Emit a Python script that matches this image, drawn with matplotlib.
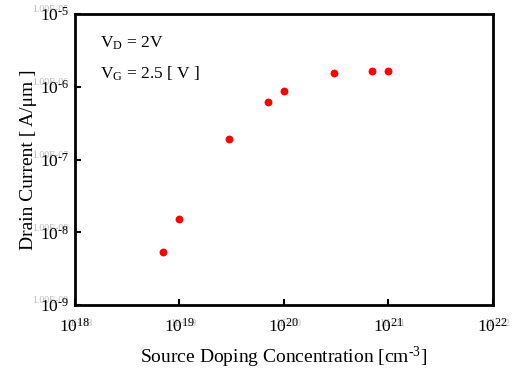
import numpy as np
import matplotlib
matplotlib.use("Agg")
import matplotlib.pyplot as plt
from matplotlib.ticker import FuncFormatter, NullLocator
from matplotlib.transforms import offset_copy

plt.rcParams['font.family'] = ['Liberation Serif', 'DejaVu Serif']
plt.rcParams['mathtext.fontset'] = 'custom'
plt.rcParams['mathtext.rm'] = 'Liberation Serif'
plt.rcParams['mathtext.it'] = 'Liberation Serif:italic'

# doping concentration [cm^-3] and drain current [A/um]
doping = [7e18, 1e19, 3e19, 7e19, 1e20, 3e20, 7e20, 1e21]
current = [5.4e-9, 1.52e-8, 1.9e-7, 6.2e-7, 8.9e-7, 1.53e-6, 1.66e-6, 1.66e-6]

x_ticks = [1e18, 1e19, 1e20, 1e21, 1e22]
y_ticks = [1e-9, 1e-8, 1e-7, 1e-6, 1e-5]
# leftover default labels that show faintly behind the real ones
x_ghost = ['1E+18', '1E+19', '1E+20', '1E+21', '1E+22']
y_ghost = ['1.00E-09', '1.00E-08', '1.00E-07', '1.00E-06', '1.00E-05']


def pow_label(v, pos):
    e = int(round(np.log10(v)))
    s = str(e).replace('-', '\u2010')
    return r'10$^{\mathrm{' + s + '}}$'


fig = plt.figure(figsize=(5.21, 3.72), dpi=100)
ax = fig.add_axes([0.144, 0.180, 0.802, 0.782])

ax.scatter(doping, current, s=32, color='#ff0000', zorder=3, linewidths=0)

ax.set_xscale('log')
ax.set_yscale('log')
ax.set_xlim(1e18, 1e22)
ax.set_ylim(1e-9, 1e-5)
ax.set_xticks(x_ticks)
ax.set_yticks(y_ticks)
ax.xaxis.set_minor_locator(NullLocator())
ax.yaxis.set_minor_locator(NullLocator())
ax.xaxis.set_major_formatter(FuncFormatter(pow_label))
ax.yaxis.set_major_formatter(FuncFormatter(pow_label))

for s in ax.spines.values():
    s.set_linewidth(2)
ax.tick_params(direction='in', length=4, width=1.5, labelsize=12.5)
ax.tick_params(axis='x', pad=9, top=False)
ax.tick_params(axis='y', pad=4, right=False)

# ghost labels
ytr = offset_copy(ax.get_yaxis_transform(), fig=fig, x=-5, y=3, units='points')
for v, t in zip(y_ticks, y_ghost):
    ax.text(0, v, t, transform=ytr, ha='right', va='center', fontsize=7,
            color='#b8b8b8', zorder=0, clip_on=False)
xtr = offset_copy(ax.get_xaxis_transform(), fig=fig, x=3, y=-13, units='points')
for v, t in zip(x_ticks, x_ghost):
    ax.text(v, 0, t, transform=xtr, ha='center', va='center', fontsize=7,
            color='#b8b8b8', zorder=0, clip_on=False)

ax.set_xlabel('Source Doping Concentration [cm$^{\\mathrm{\u20103}}$]', fontsize=14, labelpad=7)
ax.set_ylabel('Drain Current [ A/\u03bcm ]', fontsize=14, labelpad=2)

ax.text(0.06, 0.90, r'V$_{\mathrm{D}}$ = 2V', transform=ax.transAxes, fontsize=12.5,
        va='center', ha='left')
ax.text(0.06, 0.795, r'V$_{\mathrm{G}}$ = 2.5 [ V ]', transform=ax.transAxes, fontsize=12.5,
        va='center', ha='left')

fig.savefig('out.png', dpi=100)
